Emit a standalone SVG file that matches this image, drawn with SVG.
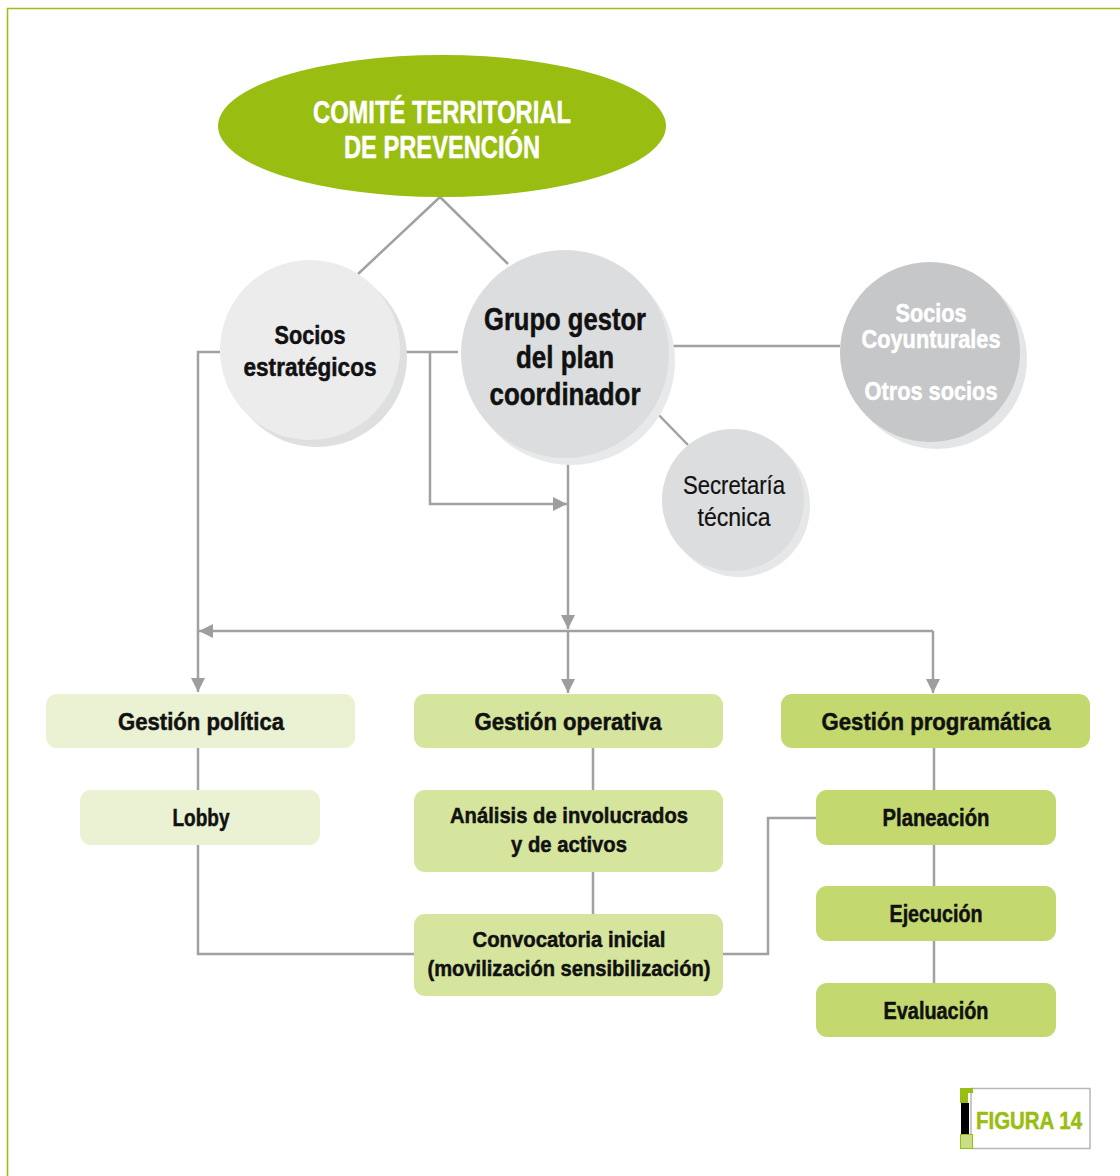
<svg xmlns="http://www.w3.org/2000/svg" width="1120" height="1176" viewBox="0 0 1120 1176">
<style>
.t{font-family:"Liberation Sans",Arial,sans-serif;font-weight:bold;text-anchor:middle;fill:#111;stroke:#111;stroke-width:0.5}
.r{font-weight:normal;stroke-width:0.2}
.w{fill:#ffffff;stroke:#ffffff}
.g{fill:#99bd10;stroke:#99bd10}
.ln{fill:none;stroke:#a0a1a3;stroke-width:2.5}
.box1{fill:#eaf2d3}
.box2{fill:#d6e59d}
.box3{fill:#c3d970}
</style>
<defs>
<marker id="ar" viewBox="0 0 10 10" refX="10" refY="5" markerWidth="5.6" markerHeight="5.6" orient="auto" markerUnits="strokeWidth">
<path d="M0,0 L10,5 L0,10 Z" fill="#9d9ea0"/>
</marker>
</defs>
<rect width="1120" height="1176" fill="#ffffff"/>
<path d="M7.5,1176 V8.5 H1120" fill="none" stroke="#9bbf14" stroke-width="1.6"/>

<g id="connectors">
<path class="ln" d="M440,197 L358,274"/>
<path class="ln" d="M440,197 L508,264"/>
<path class="ln" d="M669,346 H840"/>
<path class="ln" d="M652,408 L688,445"/>
<path class="ln" d="M220,352 H198 V692" marker-end="url(#ar)"/>
<path class="ln" d="M400,352 H458"/>
<path class="ln" d="M430,352 V504 H567" marker-end="url(#ar)"/>
<path class="ln" d="M568,458 V629" marker-end="url(#ar)"/>
<path class="ln" d="M568,631 V693" marker-end="url(#ar)"/>
<path class="ln" d="M933,631 H199" marker-end="url(#ar)"/>
<path class="ln" d="M933,631 V693" marker-end="url(#ar)"/>
<path class="ln" d="M198,748 V790"/>
<path class="ln" d="M198,845 V954 H414"/>
<path class="ln" d="M593,748 V790 M593,872 V914"/>
<path class="ln" d="M723,954 H768 V818 H816"/>
<path class="ln" d="M934,748 V790 M934,845 V886 M934,941 V983"/>
</g>

<g id="comite">
<ellipse cx="442" cy="126" rx="224" ry="71" fill="#99bd10"/>
<text class="t w" x="442" y="123" font-size="31" textLength="258" lengthAdjust="spacingAndGlyphs">COMITÉ TERRITORIAL</text>
<text class="t w" x="442" y="158" font-size="31" textLength="196" lengthAdjust="spacingAndGlyphs">DE PREVENCIÓN</text>
</g>

<g id="socios-estrategicos">
<circle cx="317" cy="357" r="90" fill="#dedfe0"/>
<circle cx="310" cy="350" r="90" fill="#ececed"/>
<text class="t" x="310" y="344" font-size="26" textLength="71" lengthAdjust="spacingAndGlyphs">Socios</text>
<text class="t" x="310" y="376" font-size="26" textLength="133" lengthAdjust="spacingAndGlyphs">estratégicos</text>
</g>

<g id="grupo-gestor">
<circle cx="571" cy="361" r="104" fill="#e8e9ea"/>
<circle cx="565" cy="354" r="104" fill="#dcdddf"/>
<text class="t" x="565" y="330" font-size="31" textLength="162" lengthAdjust="spacingAndGlyphs">Grupo gestor</text>
<text class="t" x="565" y="368" font-size="31" textLength="98" lengthAdjust="spacingAndGlyphs">del plan</text>
<text class="t" x="565" y="405" font-size="31" textLength="151" lengthAdjust="spacingAndGlyphs">coordinador</text>
</g>

<g id="socios-coyunturales">
<circle cx="937" cy="359" r="90" fill="#e4e5e6"/>
<circle cx="930" cy="352" r="90" fill="#c6c7c9"/>
<text class="t w" x="931" y="322" font-size="25" textLength="71" lengthAdjust="spacingAndGlyphs">Socios</text>
<text class="t w" x="931" y="348" font-size="25" textLength="139" lengthAdjust="spacingAndGlyphs">Coyunturales</text>
<text class="t w" x="931" y="400" font-size="25" textLength="133" lengthAdjust="spacingAndGlyphs">Otros socios</text>
</g>

<g id="secretaria">
<circle cx="739" cy="506" r="71" fill="#e6e7e8"/>
<circle cx="733" cy="500" r="71" fill="#dcdddf"/>
<text class="t r" x="734" y="494" font-size="25" textLength="102" lengthAdjust="spacingAndGlyphs">Secretaría</text>
<text class="t r" x="734" y="526" font-size="25" textLength="73" lengthAdjust="spacingAndGlyphs">técnica</text>
</g>

<g id="gestion-politica">
<rect class="box1" x="46" y="694" width="309" height="54" rx="11"/>
<text class="t" x="201" y="730" font-size="24" textLength="166" lengthAdjust="spacingAndGlyphs">Gestión política</text>
</g>
<g id="lobby">
<rect class="box1" x="80" y="790" width="240" height="55" rx="11"/>
<text class="t" x="201" y="826" font-size="24" textLength="57" lengthAdjust="spacingAndGlyphs">Lobby</text>
</g>
<g id="gestion-operativa">
<rect class="box2" x="414" y="694" width="309" height="54" rx="11"/>
<text class="t" x="568" y="730" font-size="24" textLength="187" lengthAdjust="spacingAndGlyphs">Gestión operativa</text>
</g>
<g id="analisis">
<rect class="box2" x="414" y="790" width="309" height="82" rx="11"/>
<text class="t" x="569" y="823" font-size="22" textLength="238" lengthAdjust="spacingAndGlyphs">Análisis de involucrados</text>
<text class="t" x="569" y="852" font-size="22" textLength="116" lengthAdjust="spacingAndGlyphs">y de activos</text>
</g>
<g id="convocatoria">
<rect class="box2" x="414" y="914" width="309" height="82" rx="11"/>
<text class="t" x="569" y="947" font-size="22" textLength="193" lengthAdjust="spacingAndGlyphs">Convocatoria inicial</text>
<text class="t" x="569" y="976" font-size="22" textLength="283" lengthAdjust="spacingAndGlyphs">(movilización sensibilización)</text>
</g>
<g id="gestion-programatica">
<rect class="box3" x="781" y="694" width="309" height="54" rx="11"/>
<text class="t" x="936" y="730" font-size="24" textLength="229" lengthAdjust="spacingAndGlyphs">Gestión programática</text>
</g>
<g id="planeacion">
<rect class="box3" x="816" y="790" width="240" height="55" rx="11"/>
<text class="t" x="936" y="826" font-size="23" textLength="107" lengthAdjust="spacingAndGlyphs">Planeación</text>
</g>
<g id="ejecucion">
<rect class="box3" x="816" y="886" width="240" height="55" rx="11"/>
<text class="t" x="936" y="922" font-size="23" textLength="93" lengthAdjust="spacingAndGlyphs">Ejecución</text>
</g>
<g id="evaluacion">
<rect class="box3" x="816" y="983" width="240" height="54" rx="11"/>
<text class="t" x="936" y="1019" font-size="23" textLength="105" lengthAdjust="spacingAndGlyphs">Evaluación</text>
</g>

<g id="figura">
<rect x="971" y="1088.5" width="119" height="60" fill="#ffffff" stroke="#b5b6b8" stroke-width="1.5"/>
<path d="M960,1088 H973 V1093 H968 V1103 H960 Z" fill="#99bd10"/>
<rect x="961" y="1103" width="8" height="31" fill="#000000"/>
<rect x="960.5" y="1134.5" width="12" height="14" fill="#c9df86" stroke="#99bd10" stroke-width="1"/>
<text class="t g" x="1029" y="1129" font-size="23" textLength="106" lengthAdjust="spacingAndGlyphs">FIGURA 14</text>
</g>
</svg>
